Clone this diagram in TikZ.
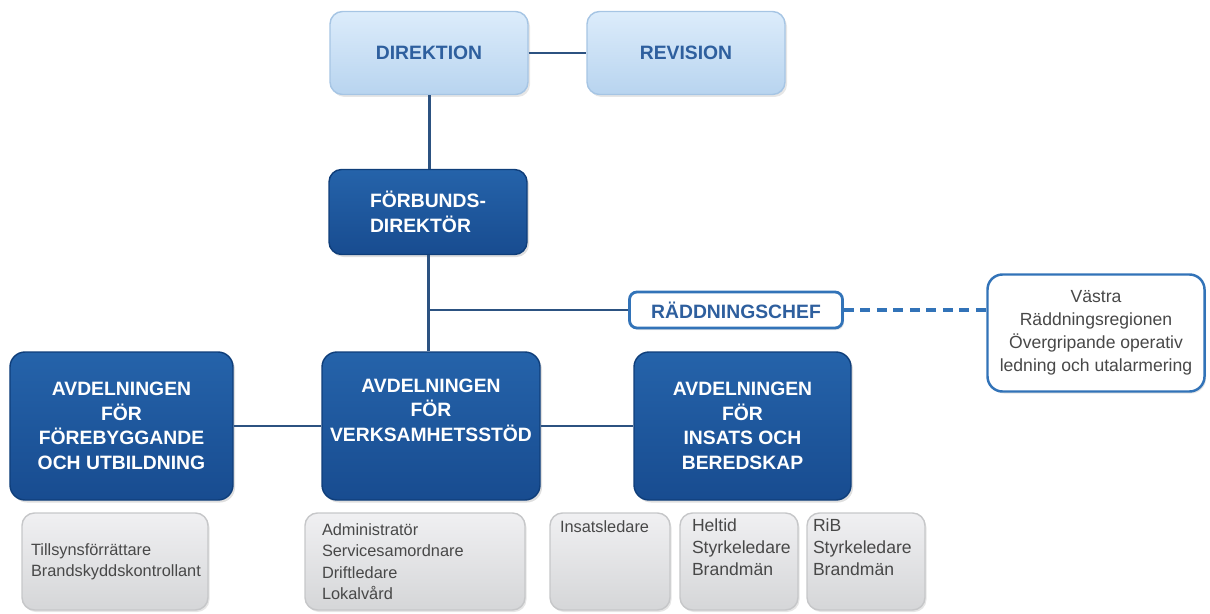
\documentclass[tikz,border=0pt]{standalone}
\usepackage{fontspec}
\setmainfont{Liberation Sans}
\usetikzlibrary{shadows}

\definecolor{deptblue}{HTML}{184C90}
\definecolor{deptlight}{HTML}{2563AA}
\definecolor{deptedge}{HTML}{0F3E7A}
\definecolor{boardtop}{HTML}{DCECFB}
\definecolor{boardbot}{HTML}{B8D4EF}
\definecolor{boardedge}{HTML}{A6C5E4}
\definecolor{titleblue}{HTML}{2E5F9E}
\definecolor{linkblue}{HTML}{2C5281}
\definecolor{frameblue}{HTML}{3273B8}
\definecolor{stafftop}{HTML}{F0F0F2}
\definecolor{staffbot}{HTML}{D5D6D8}
\definecolor{staffedge}{HTML}{C6C7C9}
\definecolor{stafftext}{HTML}{484848}

\begin{document}
\begin{tikzpicture}[thick,
	boardbox/.style ={rectangle, rounded corners=0.25cm, draw=boardedge, top color=boardtop, bottom color=boardbot, text=titleblue, font=\fontsize{11}{14}\selectfont\bfseries, minimum width=3.96cm, minimum height=1.66cm, drop shadow={opacity=0.2, shadow xshift=0.04cm, shadow yshift=-0.05cm}},
	deptbox/.style ={rectangle, rounded corners=0.3cm, draw=deptedge, top color=deptlight, bottom color=deptblue, text=white, align=center, font=\fontsize{11}{14}\selectfont\bfseries, minimum width=4.4cm, minimum height=2.96cm, drop shadow={opacity=0.25, shadow xshift=0.04cm, shadow yshift=-0.05cm}},
	framebox/.style ={rectangle, rounded corners=0.15cm, draw=frameblue, line width=1.6pt, fill=white, text=titleblue, font=\fontsize{11}{14}\selectfont\bfseries, minimum width=4.26cm, minimum height=0.72cm, drop shadow={opacity=0.2, shadow xshift=0.03cm, shadow yshift=-0.04cm}},
	regionbox/.style ={rectangle, rounded corners=0.3cm, draw=frameblue, line width=1.4pt, fill=white, text=stafftext, align=center, font=\fontsize{10}{13}\selectfont, minimum width=4.34cm, minimum height=2.34cm, drop shadow={opacity=0.2, shadow xshift=0.03cm, shadow yshift=-0.04cm}},
	staffbox/.style ={rectangle, rounded corners=0.25cm, draw=staffedge, top color=stafftop, bottom color=staffbot, text=stafftext, align=left, font=\fontsize{9.3}{12.2}\selectfont, minimum height=1.94cm, drop shadow={opacity=0.2, shadow xshift=0.03cm, shadow yshift=-0.04cm}},
	link/.style ={draw=linkblue, line width=1.7pt}]
	\useasboundingbox (0,0) rectangle (24.2,12.26);
	% ledning
	\node[boardbox] (direktion) at (8.58,11.2) {DIREKTION};
	\node[boardbox] (revision) at (13.72,11.2) {REVISION};
	\node[deptbox, align=left, minimum width=3.96cm, minimum height=1.7cm, rounded corners=0.25cm] (forbund) at (8.56,8.02) {FÖRBUNDS-\\DIREKTÖR};
	\node[framebox] (raddning) at (14.72,6.06) {RÄDDNINGSCHEF};
	\node[regionbox] (vastra) at (21.92,5.6) {Västra\\Räddningsregionen\\Övergripande operativ\\ledning och utalarmering};
	% avdelningar
	\node[deptbox, minimum width=4.46cm] (forebygg) at (2.43,3.74) {AVDELNINGEN\\FÖR\\FÖREBYGGANDE\\OCH UTBILDNING};
	\node[deptbox, minimum width=4.36cm] (verksam) at (8.62,3.74) {AVDELNINGEN\\FÖR\\VERKSAMHETSSTÖD\\\strut};
	\node[deptbox, minimum width=4.34cm] (insats) at (14.85,3.74) {AVDELNINGEN\\FÖR\\INSATS OCH\\BEREDSKAP};
	% personal
	\node[staffbox, inner xsep=0.18cm, text width=3.36cm] (tillsyn) at (2.3,1.03) {Tillsynsförrättare\\Brandskyddskontrollant};
	\node[staffbox, inner xsep=0.34cm, text width=3.72cm] (admin) at (8.3,1.03) {Administratör\\Servicesamordnare\\Driftledare\\Lokalvård};
	\node[staffbox, inner xsep=0.2cm, text width=2.0cm] (insledare) at (12.2,1.03) {Insatsledare\\\strut\\\strut\\\strut};
	\node[staffbox, inner xsep=0.24cm, text width=1.88cm, font=\fontsize{10}{12.5}\selectfont] (heltid) at (14.78,1.03) {Heltid\\Styrkeledare\\Brandmän\\\strut};
	\node[staffbox, inner xsep=0.12cm, text width=2.12cm, font=\fontsize{10}{12.5}\selectfont] (rib) at (17.32,1.03) {RiB\\Styrkeledare\\Brandmän\\\strut};
	% linjer
	\coordinate (branch) at (forbund.south |- raddning.west);
	\draw[link] (direktion) -- (revision);
	\draw[link] (direktion.south) -- (direktion.south |- forbund.north);
	\draw[link] (forbund.south) -- (forbund.south |- verksam.north);
	\draw[link] (branch) -- (raddning);
	\draw[link, draw=frameblue, line width=2.4pt, dash pattern=on 0.2cm off 0.13cm] (raddning.east) -- (raddning.east -| vastra.west);
	\draw[link] (forebygg) -- (verksam);
	\draw[link] (verksam) -- (insats);
\end{tikzpicture}
\end{document}
